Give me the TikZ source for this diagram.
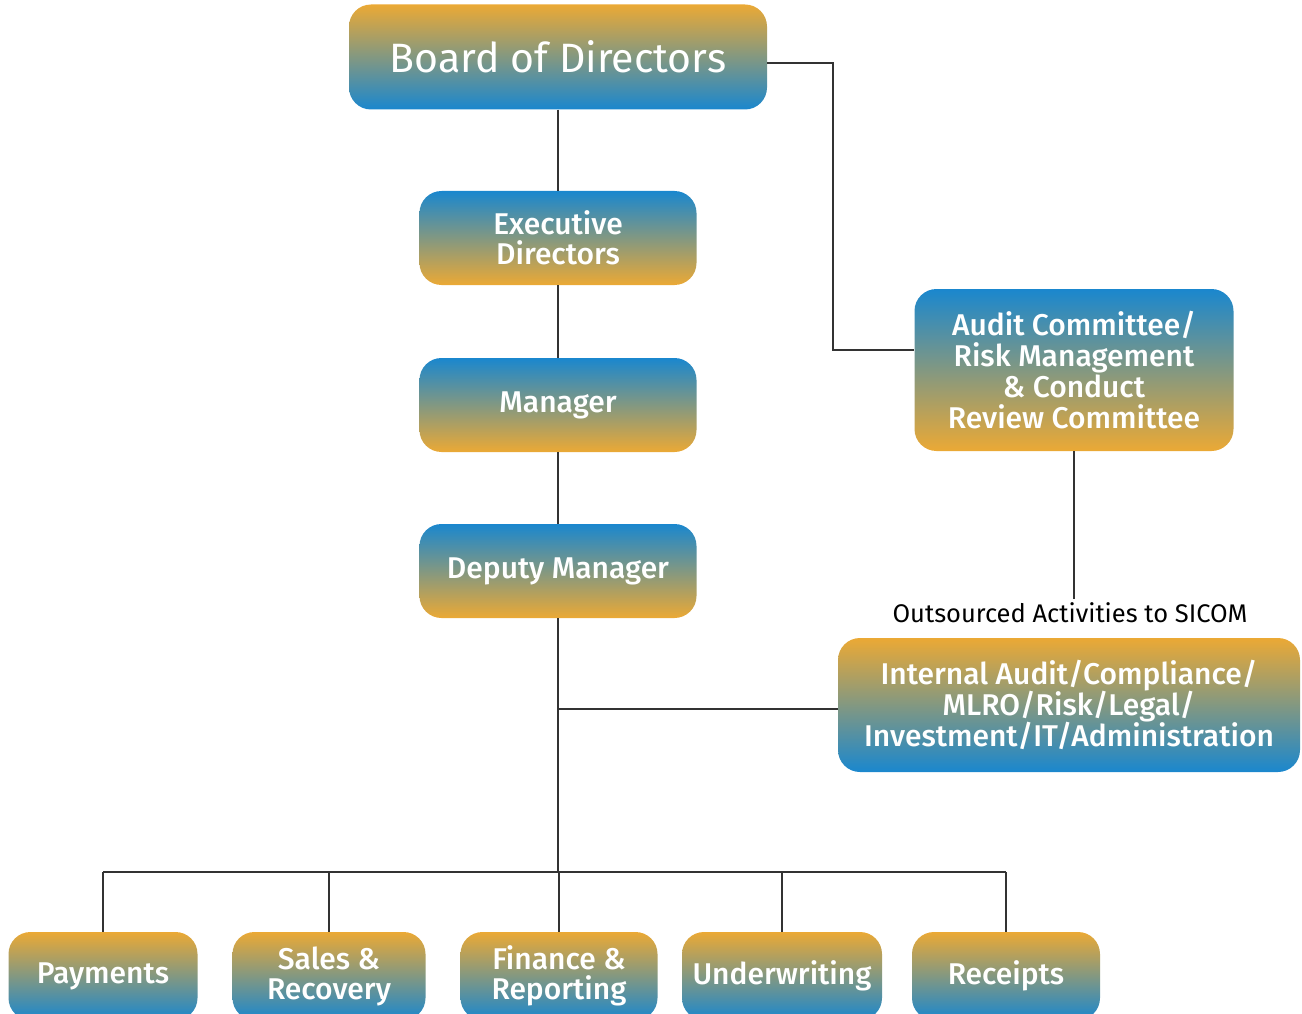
\documentclass[tikz,border=0pt]{standalone}
\usepackage{fontspec}
\setmainfont{Fira Sans}
\newfontfamily\boxfont{Fira Sans Medium}
\usetikzlibrary{positioning}
\definecolor{boxorange}{HTML}{EBA935}
\definecolor{boxblue}{HTML}{1A87CE}

\begin{document}
\begin{tikzpicture}[x=1pt,y=-1pt,
    box/.style={rounded corners=22pt,draw=none,text=white,align=center,inner sep=0pt,
      font=\boxfont\fontsize{30}{30}\selectfont},
    downbox/.style={box,top color=boxorange,bottom color=boxblue},
    upbox/.style={box,top color=boxblue,bottom color=boxorange},
    mid box/.style={minimum width=277pt,minimum height=94pt},
    unit box/.style={downbox,minimum height=88pt},
    link/.style={-,line width=1.5pt,color=black!80}]
  \clip (0,0) rectangle (1302,1014);

  % main line
  \node[downbox,minimum width=418pt,minimum height=105pt,font=\fontsize{41}{43}\selectfont] (board) at (558,57) {Board of Directors};
  \node[upbox,mid box] (exec) at (558,238) {Executive\\Directors};
  \node[upbox,mid box] (manager) at (558,405) {Manager};
  \node[upbox,mid box] (deputy) at (558,571) {Deputy Manager};

  % committees
  \node[upbox,minimum width=319pt,minimum height=162pt,font=\boxfont\fontsize{30}{31}\selectfont] (audit) at (1074,370) {Audit Committee/\\Risk Management\\\& Conduct\\Review Committee};
  \node[inner sep=4pt,font=\fontsize{25.5}{27}\selectfont] (outlbl) at (1070,613) {Outsourced Activities to SICOM};
  \node[downbox,minimum width=462pt,minimum height=134pt,font=\boxfont\fontsize{30}{31}\selectfont] (internal) at (1069,705) {Internal Audit/Compliance/\\MLRO/Risk/Legal/\\Investment/IT/Administration};

  % departments
  \node[unit box,minimum width=189pt] (payments) at (103,976) {Payments};
  \node[unit box,minimum width=193pt] (sales) at (329,976) {Sales \&\\Recovery};
  \node[unit box,minimum width=197pt] (finance) at (559,976) {Finance \&\\Reporting};
  \node[unit box,minimum width=200pt] (under) at (782,976) {Underwriting};
  \node[unit box,minimum width=188pt] (receipts) at (1006,976) {Receipts};

  \coordinate (tap) at (558,709);
  \coordinate (bus) at (558,872);

  \path[link] (board) edge (exec);
  \path[link] (exec) edge (manager);
  \path[link] (manager) edge (deputy);
  \draw[link] ([yshift=-6pt]board.east) -- (833,63) |- ([yshift=20pt]audit.west);
  \draw[link] (audit.south) -- (audit.south |- outlbl.north);
  \draw[link] (deputy.south) -- (bus);
  \draw[link] (tap) -- (tap -| internal.west);
  \draw[link] (payments.north |- bus) -- (receipts.north |- bus);
  \foreach \n in {payments,sales,finance,under,receipts}
    \draw[link] (\n.north) -- (\n.north |- bus);
\end{tikzpicture}
\end{document}
